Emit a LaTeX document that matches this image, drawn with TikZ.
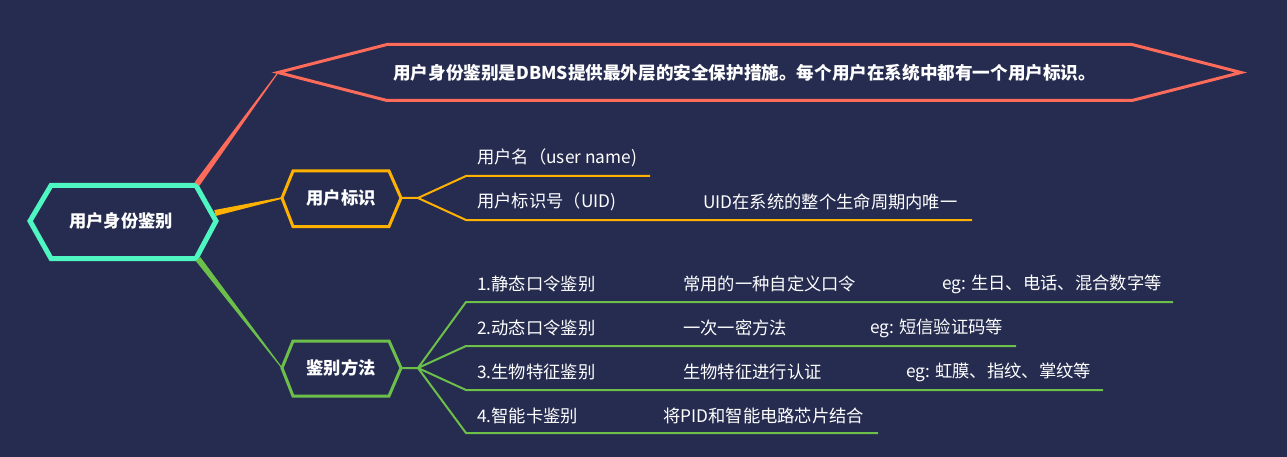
\documentclass[tikz,border=0pt]{standalone}
\usepackage{fontspec}
\setmainfont{Noto Sans CJK SC}
\usetikzlibrary{calc}
\definecolor{bg}{HTML}{262C50}
\definecolor{mint}{HTML}{4EF7C1}
\definecolor{amber}{HTML}{FFB100}
\definecolor{coral}{HTML}{FF6B5A}
\definecolor{leaf}{HTML}{6CC04A}
\tikzset{
  hexroot/.style={draw=mint,line width=5pt,line join=miter},
  hexsub/.style={line width=3pt,line join=miter},
  title/.style={text=white,font=\fontsize{17.3}{20}\selectfont\bfseries,inner sep=0pt},
  leaftext/.style={text=white,font=\fontsize{17.3}{20}\selectfont,anchor=west,inner sep=0pt},
  branch/.style={line width=2pt},
}
\newcommand{\taper}[5]{% color, from, to, w1, w2
  \fill[#1] ($(#2)!#4!90:(#3)$) -- ($(#2)!#4!-90:(#3)$) -- ($(#3)!#5!90:(#2)$) -- ($(#3)!#5!-90:(#2)$) -- cycle;}
\begin{document}
\begin{tikzpicture}[x=1pt,y=-1pt]
\fill[bg] (0,0) rectangle (1287,457);
\useasboundingbox (0,0) rectangle (1287,457);

% root hexagon
\draw[hexroot] (30,221) -- (51,185.5) -- (196,185.5) -- (216,221) -- (196,258.5) -- (51,258.5) -- cycle;
\node[title] (root) at (121,221) {用户身份鉴别};
\coordinate (rootTR) at (197,184);
\coordinate (rootR) at (215,213);
\coordinate (rootBR) at (198,259);

% top red hexagon
\draw[hexsub,draw=coral] (278,72.5) -- (387,44.5) -- (1132,44.5) -- (1241,72.5) -- (1132,100.5) -- (387,100.5) -- cycle;
\coordinate (redL) at (278,72.5);
\node[title,anchor=west,font=\fontsize{17.6}{20}\selectfont\bfseries] (def) at (393,73) {用户身份鉴别是DBMS提供最外层的安全保护措施。每个用户在系统中都有一个用户标识。};

% yellow hexagon
\draw[hexsub,draw=amber] (282,198) -- (293,171) -- (389,171) -- (401,198) -- (389,226.5) -- (293,226.5) -- cycle;
\coordinate (yelL) at (282,198);
\coordinate (yelR) at (401,198);
\node[title] (ident) at (341,198) {用户标识};

% green hexagon
\draw[hexsub,draw=leaf] (282,368) -- (293,341) -- (389,341) -- (401,368) -- (389,396) -- (293,396) -- cycle;
\coordinate (grnL) at (282,368);
\coordinate (grnR) at (401,368);
\node[title] (meth) at (341,368) {鉴别方法};

% tapered connectors from root
\taper{coral}{rootTR}{redL}{3pt}{0.5pt}
\taper{amber}{rootR}{yelL}{3pt}{0.8pt}
\taper{leaf}{rootBR}{grnL}{3pt}{0.5pt}

% yellow branches
\coordinate (yj) at (418,198);
\coordinate (y1) at (466,176); \coordinate (y1e) at (650,176);
\coordinate (y2) at (466,220); \coordinate (y2e) at (972,220);
\draw[branch,amber] (yelR) -- (yj) -- (y1) -- (y1e);
\draw[branch,amber] (yj) -- (y2) -- (y2e);
\node[leaftext] (un) at (477,158) {用户名（user name)};
\node[leaftext] (uid) at (477,202) {用户标识号（UID)};
\node[leaftext] (uidd) at (703,202) {UID在系统的整个生命周期内唯一};

% green branches
\coordinate (gj) at (418,368);
\coordinate (g1) at (466,302); \coordinate (g1e) at (1173,302);
\coordinate (g2) at (466,346); \coordinate (g2e) at (1016,346);
\coordinate (g3) at (466,390); \coordinate (g3e) at (1103,390);
\coordinate (g4) at (466,433); \coordinate (g4e) at (878,433);
\draw[branch,leaf] (grnR) -- (gj) -- (g1) -- (g1e);
\draw[branch,leaf] (gj) -- (g2) -- (g2e);
\draw[branch,leaf] (gj) -- (g3) -- (g3e);
\draw[branch,leaf] (gj) -- (g4) -- (g4e);

\node[leaftext] (m1) at (477,284) {1.静态口令鉴别};
\node[leaftext] (m1a) at (683,284) {常用的一种自定义口令};
\node[leaftext] (m1b) at (942,284) {eg: 生日、电话、混合数字等};
\node[leaftext] (m2) at (477,328) {2.动态口令鉴别};
\node[leaftext] (m2a) at (683,328) {一次一密方法};
\node[leaftext] (m2b) at (870,328) {eg: 短信验证码等};
\node[leaftext] (m3) at (477,372) {3.生物特征鉴别};
\node[leaftext] (m3a) at (683,372) {生物特征进行认证};
\node[leaftext] (m3b) at (906,372) {eg: 虹膜、指纹、掌纹等};
\node[leaftext] (m4) at (477,416) {4.智能卡鉴别};
\node[leaftext] (m4a) at (663,416) {将PID和智能电路芯片结合};
\end{tikzpicture}
\end{document}
